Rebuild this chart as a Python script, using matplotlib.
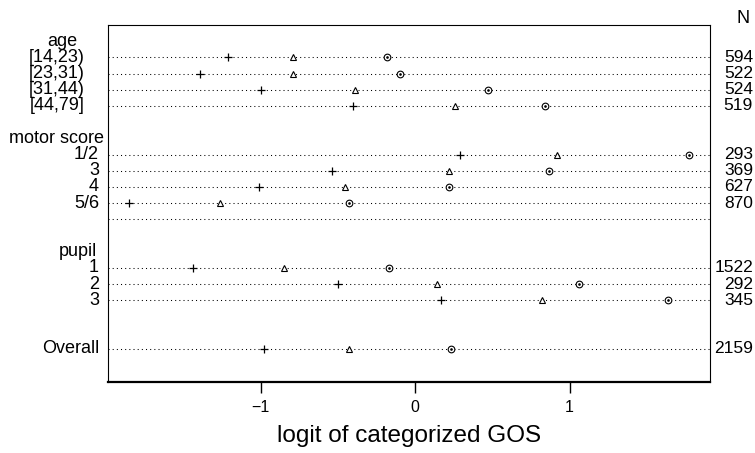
import numpy as np
import matplotlib.pyplot as plt
import matplotlib.transforms as mtransforms

plt.rcParams['font.family'] = ['Liberation Sans', 'DejaVu Sans']

# row layout (top to bottom)
groups = ["age", "motor score", "pupil"]
age_levels = ["[14,23)", "[23,31)", "[31,44)", "[44,79]"]
motor_levels = ["1/2", "3", "4", "5/6"]
pupil_levels = ["1", "2", "3"]

# logits for the three cut points (+, triangle, circle)
age_plus = [-1.21, -1.39, -1.00, -0.40]
age_tri = [-0.79, -0.79, -0.39, 0.26]
age_circ = [-0.18, -0.10, 0.47, 0.84]
age_n = [594, 522, 524, 519]

motor_plus = [0.29, -0.54, -1.01, -1.85]
motor_tri = [0.92, 0.22, -0.45, -1.26]
motor_circ = [1.77, 0.87, 0.22, -0.43]
motor_n = [293, 369, 627, 870]

pupil_plus = [-1.44, -0.50, 0.17]
pupil_tri = [-0.85, 0.14, 0.82]
pupil_circ = [-0.17, 1.06, 1.64]
pupil_n = [1522, 292, 345]

overall_plus = [-0.98]
overall_tri = [-0.43]
overall_circ = [0.23]
overall_n = [2159]

# row indices of each block
age_rows = [1, 2, 3, 4]
motor_rows = [7, 8, 9, 10]
empty_row = 11
pupil_rows = [14, 15, 16]
overall_row = 19
header_rows = {"age": 0, "motor score": 6, "pupil": 13}

fig = plt.figure(figsize=(7.55, 4.53), dpi=100)
ax = fig.add_axes([108 / 755, 1 - 382 / 453, 602 / 755, 357 / 453])
ax.set_xlim(-1.987, 1.909)
ax.set_ylim(21.05, -1)

ftrans = mtransforms.blended_transform_factory(ax.transAxes, ax.transData)

def dotline(r):
    ax.plot([0, 1], [r, r], transform=ftrans, color='black', lw=0.75,
            ls=(0, (1, 3)), zorder=1)

def block(rows, plus, tri, circ, ns, labels, lab_x):
    for r, p, t, c, n, lab in zip(rows, plus, tri, circ, ns, labels):
        dotline(r)
        ax.plot(p, r, marker='+', ms=6, mew=0.9, color='black', zorder=3)
        ax.plot(t, r, marker='^', ms=4, mew=0.8, mfc='white', color='black', zorder=3)
        ax.plot(c, r, marker='o', ms=4.8, mew=0.8, mfc='white', color='black', zorder=3)
        ax.plot(c, r, marker='o', ms=0.9, color='black', zorder=4)
        ax.text(1.0714, r, str(n), transform=ftrans, ha='right', va='center',
                fontsize=12.5, clip_on=False)
        ax.text(lab_x, r, lab, transform=ftrans, ha='right', va='center',
                fontsize=13, clip_on=False)

block(age_rows, age_plus, age_tri, age_circ, age_n, age_levels, -0.038)
block(motor_rows, motor_plus, motor_tri, motor_circ, motor_n, motor_levels, -0.015)
block(pupil_rows, pupil_plus, pupil_tri, pupil_circ, pupil_n, pupil_levels, -0.015)
block([overall_row], overall_plus, overall_tri, overall_circ, overall_n, ["Overall"], -0.015)

# the extra empty dotted row
dotline(empty_row)

ax.text(-0.0764, header_rows["age"], "age", transform=ftrans, ha='center',
        va='center', fontsize=13)
ax.text(-0.0066, header_rows["motor score"], "motor score", transform=ftrans,
        ha='right', va='center', fontsize=13)
ax.text(-0.0507, header_rows["pupil"], "pupil", transform=ftrans, ha='center',
        va='center', fontsize=13)
ax.text(1.055, 1.005, "N", transform=ax.transAxes, ha='center', va='baseline',
        fontsize=13)

ax.set_yticks([])
ax.set_xticks([-1, 0, 1])
ax.set_xticklabels(["\u22121", "0", "1"])
ax.tick_params(axis='x', direction='out', length=8, width=1, labelsize=11.5, pad=5)
ax.set_xlabel("logit of categorized GOS", fontsize=17.5, labelpad=7)

for s in ['top', 'right', 'left']:
    ax.spines[s].set_linewidth(0.8)
ax.spines['bottom'].set_linewidth(1.6)

fig.savefig("out.png", dpi=100)
